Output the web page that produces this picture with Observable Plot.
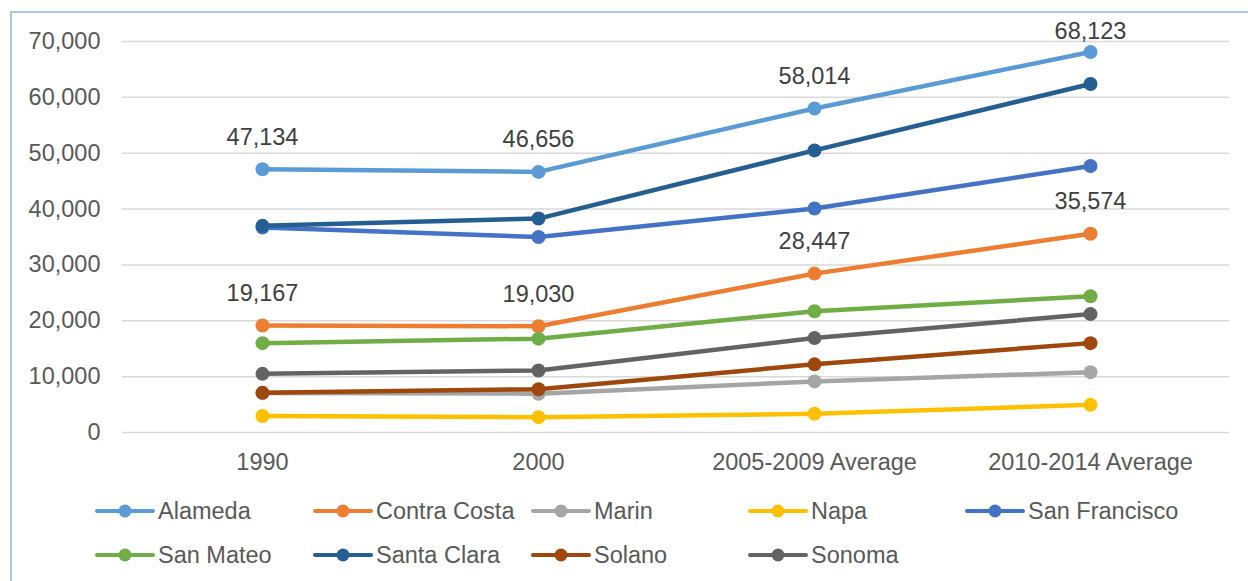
<!DOCTYPE html>
<html>
<head>
<meta charset="utf-8">
<script src="https://cdn.jsdelivr.net/npm/d3@7"></script>
<script src="https://cdn.jsdelivr.net/npm/@observablehq/plot@0.6"></script>
<style>
  html, body { margin: 0; padding: 0; background: #fff; }
  #wrap { position: relative; width: 1248px; height: 581px; overflow: hidden; font-family: "Liberation Sans", Arial, sans-serif; }
  #frame { position: absolute; left: 10px; top: 11px; width: 1300px; height: 700px; border-left: 2px solid #A9C8E8; border-top: 2px solid #A9C8E8; }
  #chart { position: absolute; left: 0; top: 0; }
  #legend { position: absolute; left: 0; top: 470px; width: 1248px; height: 111px; }
  .item { position: absolute; display: flex; align-items: center; height: 30px; font-size: 23.5px; color: #595959; white-space: nowrap; }
  .item svg { display: block; margin-right: 3px; }
</style>
</head>
<body>
<div id="wrap">
  <div id="frame"></div>
  <div id="chart"></div>
  <div id="legend"></div>
</div>
<script>
// ---- data ----
const categories = ["1990", "2000", "2005-2009 Average", "2010-2014 Average"];
const counties = ["Alameda", "Contra Costa", "Marin", "Napa", "San Francisco", "San Mateo", "Santa Clara", "Solano", "Sonoma"];
const colors = ["#5B9BD5", "#ED7D31", "#A5A5A5", "#FFC000", "#4472C4", "#70AD47", "#255E91", "#9E480E", "#636363"];
const alameda = [47134, 46656, 58014, 68123];
const contraCosta = [19167, 19030, 28447, 35574];
const marin = [7050, 6950, 9150, 10800];
const napa = [2950, 2750, 3350, 4950];
const sanFrancisco = [36700, 35000, 40100, 47700];
const sanMateo = [16000, 16800, 21700, 24400];
const santaClara = [37000, 38300, 50500, 62400];
const solano = [7100, 7750, 12200, 16000];
const sonoma = [10500, 11100, 16900, 21200];
const seriesValues = [alameda, contraCosta, marin, napa, sanFrancisco, sanMateo, santaClara, solano, sonoma];
const labeledCounties = ["Alameda", "Contra Costa"];
const yTicks = [0, 10000, 20000, 30000, 40000, 50000, 60000, 70000];

// ---- table ----
const rows = [];
counties.forEach((c, i) => {
  categories.forEach((cat, j) => rows.push({county: c, category: cat, value: seriesValues[i][j]}));
});
const labelRows = rows.filter(d => labeledCounties.includes(d.county));

const fmt = d3.format(",");
const seriesMarks = counties.flatMap((c, i) => {
  const d = rows.filter(r => r.county === c);
  return [
    Plot.line(d, {x: "category", y: "value", stroke: colors[i], strokeWidth: 4.5, strokeLinecap: "round", strokeLinejoin: "round"}),
    Plot.dot(d, {x: "category", y: "value", fill: colors[i], r: 7, stroke: "none"})
  ];
});

const chart = Plot.plot({
  width: 1248,
  height: 470,
  marginLeft: 122,
  marginRight: 19,
  marginTop: 41,
  marginBottom: 38,
  style: {background: "transparent", fontFamily: "'Liberation Sans', Arial, sans-serif", fontSize: "23.5px", color: "#595959", overflow: "visible"},
  x: {type: "point", domain: categories, padding: 0.5, label: null, tickSize: 0, tickPadding: 21},
  y: {domain: [0, 70000], ticks: yTicks, tickFormat: fmt, label: null, tickSize: 0, tickPadding: 22},
  marks: [
    Plot.ruleY(yTicks, {stroke: "#D9D9D9", strokeWidth: 1.5}),
    ...seriesMarks,
    Plot.text(labelRows.filter(d => d.value < 65000), {x: "category", y: "value", text: d => fmt(d.value), dy: -32, fill: "#404040", fontSize: 23.5}),
    Plot.text(labelRows.filter(d => d.value >= 65000), {x: "category", y: "value", text: d => fmt(d.value), dy: -21, fill: "#404040", fontSize: 23.5})
  ]
});
document.getElementById("chart").appendChild(chart);

// ---- legend ----
const legend = document.getElementById("legend");
const colX = [97, 315, 533, 750, 967];
const rowY = [41, 85];
counties.forEach((c, i) => {
  const row = i < 5 ? 0 : 1;
  const col = i < 5 ? i : i - 5;
  const div = document.createElement("div");
  div.className = "item";
  div.style.left = (colX[col] - 2) + "px";
  div.style.top = (rowY[row] - 15) + "px";
  div.innerHTML = `<svg width="60" height="16"><line x1="2" x2="58" y1="8" y2="8" stroke="${colors[i]}" stroke-width="4" stroke-linecap="round"/><circle cx="30" cy="8" r="6.5" fill="${colors[i]}"/></svg><span>${c}</span>`;
  legend.appendChild(div);
});
</script>
</body>
</html>
